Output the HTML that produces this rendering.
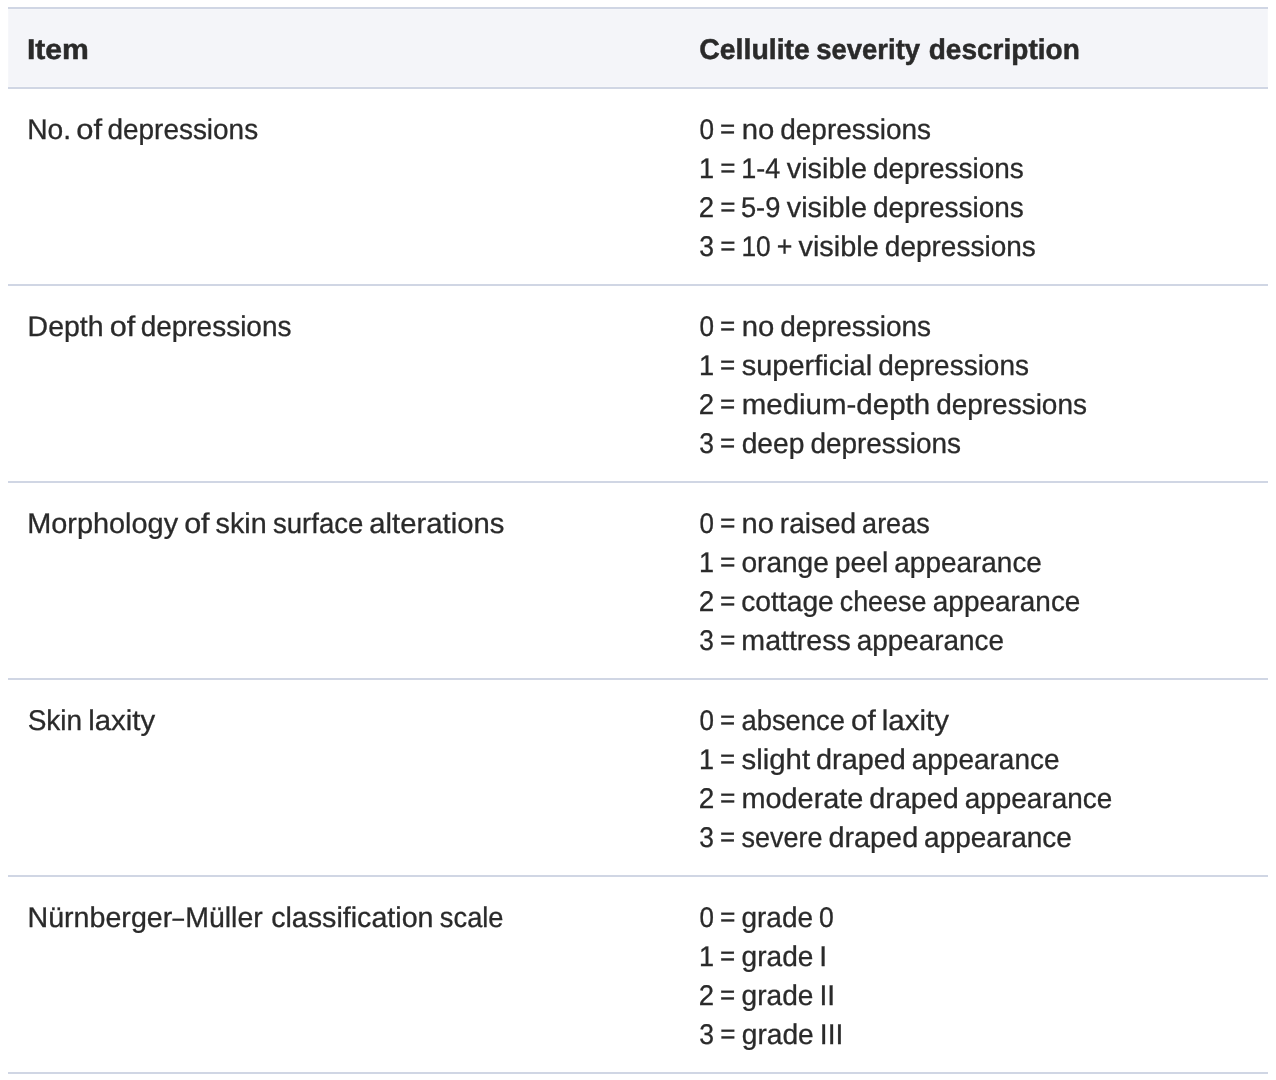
<!DOCTYPE html>
<html lang="en">
<head>
<meta charset="utf-8">
<title>Cellulite severity scale</title>
<style>
html,body{margin:0;padding:0;background:#fff;}
body{width:1276px;height:1080px;overflow:hidden;position:relative;font-family:"Liberation Sans",sans-serif;color:#2a2a2a;text-rendering:geometricPrecision;}
table{position:absolute;left:8px;top:7px;width:1260px;border-collapse:separate;border-spacing:0;table-layout:fixed;font-size:28.5px;line-height:39px;}
col.c1{width:672px}col.c2{width:588px}
th,td{padding:0 20px;vertical-align:top;text-align:left;}
th{background:#f4f5f9;font-weight:bold;font-size:28.5px;height:78px;border-top:2px solid #d0d6e4;border-bottom:2px solid #d0d6e4;}
th{box-shadow:inset 0 1px 0 #f6f7fa,inset 0 -1px 0 #f6f7fa;}
th:first-child{box-shadow:inset 0 1px 0 #f6f7fa,inset 0 -1px 0 #f6f7fa,inset 1px 0 0 #f6f7fa;}
th:last-child{box-shadow:inset 0 1px 0 #f6f7fa,inset 0 -1px 0 #f6f7fa,inset -1px 0 0 #f6f7fa;}
td{height:195px;border-bottom:2px solid #d0d6e4;}
th .bx{padding-top:22px;-webkit-text-stroke:0.5px #2a2a2a;}
td .bx{padding-top:22px;-webkit-text-stroke:0.3px #2a2a2a;}
.ln{position:relative;height:39px;white-space:nowrap;}
.ln span{position:absolute;top:0;left:0;display:block;height:39px;transform-origin:0 50%;white-space:nowrap;}
.ln span.eq{-webkit-text-stroke:0.3px #2a2a2a;}
</style>
</head>
<body>
<table>
<colgroup><col class="c1"><col class="c2"></colgroup>
<thead><tr><th><div class="bx"><div class="ln"><span style="transform:translateX(-1.09px) scaleX(1.0580)">Item</span></div></div></th><th><div class="bx"><div class="ln"><span style="transform:translateX(-0.70px) scaleX(0.9968)">Cellulite</span> <span style="transform:translateX(116.20px) scaleX(0.9646)">severity</span> <span style="transform:translateX(228.70px) scaleX(0.9837)">description</span></div></div></th></tr></thead>
<tbody>
<tr><td><div class="bx"><div class="ln"><span style="transform:translateX(-0.81px) scaleX(0.9891)">No.</span> <span style="transform:translateX(48.36px) scaleX(1.0862)">of</span> <span style="transform:translateX(79.47px) scaleX(0.9804)">depressions</span></div></div></td>
<td><div class="bx"><div class="ln"><span style="transform:translateX(-0.52px) scaleX(0.9159)">0</span> <span class="eq" style="transform:translate(20.12px,-1px) scale(0.9137,0.95)">=</span> <span style="transform:translateX(41.70px) scaleX(1.0275)">no</span> <span style="transform:translateX(80.26px) scaleX(0.9812)">depressions</span></div>
<div class="ln"><span style="transform:translateX(-1.04px) scaleX(0.9539)">1</span> <span class="eq" style="transform:translate(20.13px,-1px) scale(0.9140,0.95)">=</span> <span style="transform:translateX(41.33px) scaleX(0.9465)">1-4</span> <span style="transform:translateX(86.75px) scaleX(1.0133)">visible</span> <span style="transform:translateX(173.00px) scaleX(0.9816)">depressions</span></div>
<div class="ln"><span style="transform:translateX(-1.24px) scaleX(0.9679)">2</span> <span class="eq" style="transform:translate(20.13px,-1px) scale(0.9140,0.95)">=</span> <span style="transform:translateX(40.91px) scaleX(0.9568)">5-9</span> <span style="transform:translateX(86.75px) scaleX(1.0133)">visible</span> <span style="transform:translateX(173.00px) scaleX(0.9816)">depressions</span></div>
<div class="ln"><span style="transform:translateX(-0.69px) scaleX(0.9318)">3</span> <span class="eq" style="transform:translate(20.16px,-1px) scale(0.9152,0.95)">=</span> <span style="transform:translateX(41.40px) scaleX(0.9239)">10</span> <span style="transform:translateX(76.69px) scaleX(0.9407)">+</span> <span style="transform:translateX(98.44px) scaleX(1.0147)">visible</span> <span style="transform:translateX(184.80px) scaleX(0.9829)">depressions</span></div>
</div></td></tr>
<tr><td><div class="bx"><div class="ln"><span style="transform:translateX(-0.40px) scaleX(0.9982)">Depth</span> <span style="transform:translateX(81.74px) scaleX(1.0742)">of</span> <span style="transform:translateX(112.66px) scaleX(0.9810)">depressions</span></div></div></td>
<td><div class="bx"><div class="ln"><span style="transform:translateX(-0.52px) scaleX(0.9159)">0</span> <span class="eq" style="transform:translate(20.12px,-1px) scale(0.9137,0.95)">=</span> <span style="transform:translateX(41.70px) scaleX(1.0275)">no</span> <span style="transform:translateX(80.26px) scaleX(0.9812)">depressions</span></div>
<div class="ln"><span style="transform:translateX(-1.04px) scaleX(0.9537)">1</span> <span class="eq" style="transform:translate(20.12px,-1px) scale(0.9138,0.95)">=</span> <span style="transform:translateX(41.71px) scaleX(1.0166)">superficial</span> <span style="transform:translateX(178.13px) scaleX(0.9813)">depressions</span></div>
<div class="ln"><span style="transform:translateX(-1.24px) scaleX(0.9677)">2</span> <span class="eq" style="transform:translate(20.12px,-1px) scale(0.9139,0.95)">=</span> <span style="transform:translateX(41.71px) scaleX(1.0343)">medium-depth</span> <span style="transform:translateX(236.13px) scaleX(0.9814)">depressions</span></div>
<div class="ln"><span style="transform:translateX(-0.69px) scaleX(0.9291)">3</span> <span class="eq" style="transform:translate(20.10px,-1px) scale(0.9126,0.95)">=</span> <span style="transform:translateX(41.65px) scaleX(0.9905)">deep</span> <span style="transform:translateX(110.43px) scaleX(0.9800)">depressions</span></div>
</div></td></tr>
<tr><td><div class="bx"><div class="ln"><span style="transform:translateX(-0.76px) scaleX(1.0128)">Morphology</span> <span style="transform:translateX(156.13px) scaleX(1.0719)">of</span> <span style="transform:translateX(187.58px) scaleX(1.0079)">skin</span> <span style="transform:translateX(244.99px) scaleX(0.9674)">surface</span> <span style="transform:translateX(341.33px) scaleX(1.0276)">alterations</span></div></div></td>
<td><div class="bx"><div class="ln"><span style="transform:translateX(-0.53px) scaleX(0.9108)">0</span> <span class="eq" style="transform:translate(19.98px,-1px) scale(0.9261,0.95)">=</span> <span style="transform:translateX(41.47px) scaleX(1.0218)">no</span> <span style="transform:translateX(79.81px) scaleX(0.9837)">raised</span> <span style="transform:translateX(162.12px) scaleX(0.9471)">areas</span></div>
<div class="ln"><span style="transform:translateX(-1.03px) scaleX(0.9481)">1</span> <span class="eq" style="transform:translate(19.97px,-1px) scale(0.9256,0.95)">=</span> <span style="transform:translateX(41.44px) scaleX(0.9849)">orange</span> <span style="transform:translateX(134.80px) scaleX(0.9941)">peel</span> <span style="transform:translateX(194.32px) scaleX(0.9803)">appearance</span></div>
<div class="ln"><span style="transform:translateX(-1.27px) scaleX(0.9781)">2</span> <span class="eq" style="transform:translate(19.90px,-1px) scale(0.9229,0.95)">=</span> <span style="transform:translateX(41.22px) scaleX(0.9900)">cottage</span> <span style="transform:translateX(139.72px) scaleX(0.9432)">cheese</span> <span style="transform:translateX(232.82px) scaleX(0.9803)">appearance</span></div>
<div class="ln"><span style="transform:translateX(-0.69px) scaleX(0.9225)">3</span> <span class="eq" style="transform:translate(19.93px,-1px) scale(0.9242,0.95)">=</span> <span style="transform:translateX(41.35px) scaleX(1.0016)">mattress</span> <span style="transform:translateX(156.75px) scaleX(0.9781)">appearance</span></div>
</div></td></tr>
<tr><td><div class="bx"><div class="ln"><span style="transform:translateX(-0.35px) scaleX(0.9824)">Skin</span> <span style="transform:translateX(60.26px) scaleX(1.0307)">laxity</span></div></div></td>
<td><div class="bx"><div class="ln"><span style="transform:translateX(-0.53px) scaleX(0.9122)">0</span> <span class="eq" style="transform:translate(20.03px,-1px) scale(0.9099,0.95)">=</span> <span style="transform:translateX(41.53px) scaleX(0.9595)">absence</span> <span style="transform:translateX(150.89px) scaleX(1.0447)">of</span> <span style="transform:translateX(181.69px) scaleX(1.0350)">laxity</span></div>
<div class="ln"><span style="transform:translateX(-1.03px) scaleX(0.9493)">1</span> <span class="eq" style="transform:translate(20.02px,-1px) scale(0.9093,0.95)">=</span> <span style="transform:translateX(41.50px) scaleX(1.0316)">slight</span> <span style="transform:translateX(116.10px) scaleX(1.0103)">draped</span> <span style="transform:translateX(211.72px) scaleX(0.9816)">appearance</span></div>
<div class="ln"><span style="transform:translateX(-1.27px) scaleX(0.9807)">2</span> <span class="eq" style="transform:translate(19.95px,-1px) scale(0.9247,0.95)">=</span> <span style="transform:translateX(41.41px) scaleX(1.0132)">moderate</span> <span style="transform:translateX(169.34px) scaleX(1.0081)">draped</span> <span style="transform:translateX(264.75px) scaleX(0.9794)">appearance</span></div>
<div class="ln"><span style="transform:translateX(-0.69px) scaleX(0.9259)">3</span> <span class="eq" style="transform:translate(20.02px,-1px) scale(0.9094,0.95)">=</span> <span style="transform:translateX(41.50px) scaleX(0.9470)">severe</span> <span style="transform:translateX(128.47px) scaleX(1.0105)">draped</span> <span style="transform:translateX(224.10px) scaleX(0.9817)">appearance</span></div>
</div></td></tr>
<tr><td><div class="bx"><div class="ln"><span style="transform:translateX(-0.50px) scaleX(1.0041)">Nürnberger</span><span style="transform:translateX(144.50px) scaleX(0.7246)">–</span><span style="transform:translateX(157.20px) scaleX(0.9989)">Müller</span> <span style="transform:translateX(243.15px) scaleX(1.0049)">classification</span> <span style="transform:translateX(411.85px) scaleX(0.9574)">scale</span></div></div></td>
<td><div class="bx"><div class="ln"><span style="transform:translateX(-0.53px) scaleX(0.9107)">0</span> <span class="eq" style="transform:translate(19.98px,-1px) scale(0.9260,0.95)">=</span> <span style="transform:translateX(41.46px) scaleX(0.9815)">grade</span> <span style="transform:translateX(118.97px) scaleX(0.9321)">0</span></div>
<div class="ln"><span style="transform:translateX(-1.04px) scaleX(0.9511)">1</span> <span class="eq" style="transform:translate(20.07px,-1px) scale(0.9113,0.95)">=</span> <span style="transform:translateX(41.59px) scaleX(0.9847)">grade</span> <span style="transform:translateX(119.35px) scaleX(0.9906)">I</span></div>
<div class="ln"><span style="transform:translateX(-1.25px) scaleX(0.9662)">2</span> <span class="eq" style="transform:translate(20.08px,-1px) scale(0.9118,0.95)">=</span> <span style="transform:translateX(41.61px) scaleX(0.9851)">grade</span> <span style="transform:translateX(119.40px) scaleX(0.9910)">II</span></div>
<div class="ln"><span style="transform:translateX(-0.69px) scaleX(0.9312)">3</span> <span class="eq" style="transform:translate(20.14px,-1px) scale(0.9146,0.95)">=</span> <span style="transform:translateX(41.74px) scaleX(0.9882)">grade</span> <span style="transform:translateX(119.77px) scaleX(0.9941)">III</span></div>
</div></td></tr>
</tbody>
</table>
</body>
</html>
